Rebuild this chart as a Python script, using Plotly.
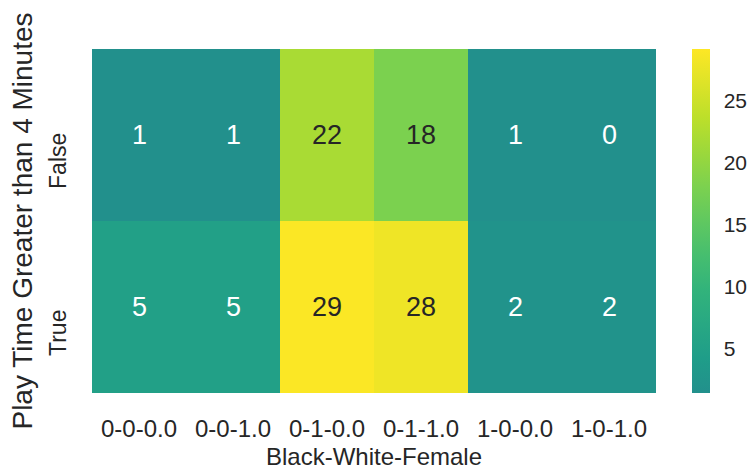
import plotly.graph_objects as go
from plotly.colors import sample_colorscale

# Counts of players by demographic group and whether play time exceeded 4 minutes
groups = ["0-0-0.0", "0-0-1.0", "0-1-0.0", "0-1-1.0", "1-0-0.0", "1-0-1.0"]
outcomes = ["False", "True"]
counts_false = [1, 1, 22, 18, 1, 0]
counts_true = [5, 5, 29, 28, 2, 2]
colorbar_ticks = [5, 10, 15, 20, 25]

z = [counts_false, counts_true]
zmin, zmax = 1.4, 29.2
rows = list(range(len(outcomes)))
label_shift = 0.17  # rotated row labels sit a little below row centres

# Upper half of viridis (teal to yellow)
stops = [i / 10 for i in range(11)]
cols = sample_colorscale("Viridis", [0.5 + 0.5 * s for s in stops])
colorscale = [[s, c] for s, c in zip(stops, cols)]

FONT = "Arial, Liberation Sans, sans-serif"
TEXT = "#262626"
W, H = 755, 470

fig = go.Figure(
    go.Heatmap(
        z=z,
        x=groups,
        y=rows,
        zmin=zmin,
        zmax=zmax,
        colorscale=colorscale,
        xgap=0,
        ygap=0,
        colorbar=dict(
            xref="container",
            x=692 / W,
            xanchor="left",
            xpad=0,
            y=0.5,
            yanchor="middle",
            ypad=0,
            len=1.0,
            thickness=18,
            outlinewidth=0,
            ticks="outside",
            ticklen=10,
            tickcolor="rgba(0,0,0,0)",
            tickvals=colorbar_ticks,
            tickfont=dict(family=FONT, size=21, color=TEXT),
        ),
        hoverinfo="skip",
    )
)

# Cell labels: dark text on bright cells, light text on dark cells
annotations = []
for yi, row in zip(rows, z):
    for xi, v in zip(groups, row):
        frac = (min(max(v, zmin), zmax) - zmin) / (zmax - zmin)
        color = TEXT if frac > 0.45 else "#ffffff"
        annotations.append(
            dict(
                x=xi, y=yi, text=str(v), showarrow=False,
                font=dict(family=FONT, size=27, color=color),
            )
        )

fig.update_layout(
    width=W,
    height=H,
    margin=dict(l=92, r=99, t=49, b=77, autoexpand=False),
    paper_bgcolor="white",
    plot_bgcolor="white",
    annotations=annotations,
    font=dict(family=FONT, color=TEXT),
    xaxis=dict(
        title=dict(text="Black-White-Female", font=dict(size=24), standoff=8),
        tickfont=dict(size=24),
        ticklabelstandoff=19,
        automargin=False,
        showgrid=False,
        zeroline=False,
        ticks="",
    ),
    yaxis=dict(
        title=dict(text="Play Time Greater than 4 Minutes", font=dict(size=28), standoff=4),
        tickmode="array",
        tickvals=[r + label_shift for r in rows],
        ticktext=outcomes,
        tickfont=dict(size=23),
        ticklabelstandoff=20,
        tickangle=-90,
        automargin=False,
        range=[len(outcomes) - 0.5, -0.5],
        showgrid=False,
        zeroline=False,
        ticks="",
    ),
)

fig.write_html("out.html")
